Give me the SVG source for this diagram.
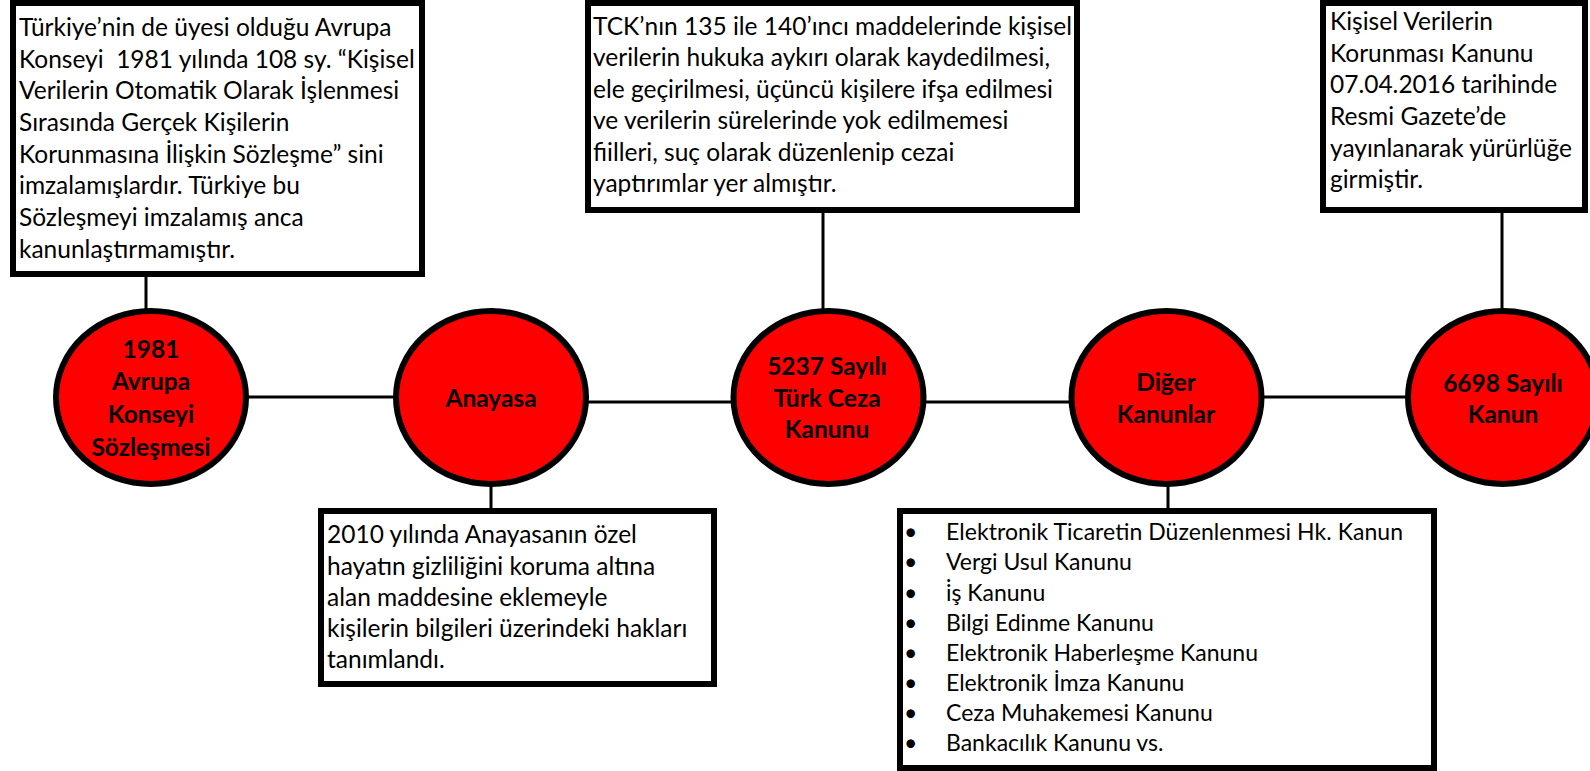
<svg xmlns="http://www.w3.org/2000/svg" width="1590" height="771" viewBox="0 0 1590 771">
<style>
.box{fill:#fff;stroke:#000;stroke-width:6}
.node{fill:#ff0000;stroke:#000;stroke-width:6}
.ln{stroke:#000;stroke-width:3;fill:none}
.t{font-family:Lato,"Open Sans","Liberation Sans",sans-serif;font-size:24.5px;fill:#000}
.s{font-size:23px}
.b{font-family:Lato,"Open Sans","Liberation Sans",sans-serif;font-size:24.5px;font-weight:bold;fill:#000;text-anchor:middle}
</style>
<rect x="0" y="0" width="1590" height="771" fill="#fff"/>
<g id="connectors">
<line class="ln" x1="146" y1="277" x2="146" y2="310"/>
<line class="ln" x1="491" y1="485" x2="491" y2="509"/>
<line class="ln" x1="823" y1="213" x2="823" y2="310"/>
<line class="ln" x1="1168" y1="485" x2="1168" y2="509"/>
<line class="ln" x1="1502" y1="213" x2="1502" y2="310"/>
<line class="ln" x1="247" y1="397" x2="396" y2="397"/>
<line class="ln" x1="586" y1="402" x2="732" y2="402"/>
<line class="ln" x1="925" y1="402" x2="1070" y2="402"/>
<line class="ln" x1="1263" y1="397" x2="1408" y2="397"/>
</g>
<g id="node-1981">
<ellipse class="node" cx="151" cy="397.5" rx="95" ry="86.5"/>
<text class="b" x="151" y="358">1981</text>
<text class="b" x="151" y="390">Avrupa</text>
<text class="b" x="151" y="423">Konseyi</text>
<text class="b" x="151" y="456">Sözleşmesi</text>
</g>
<g id="node-anayasa">
<ellipse class="node" cx="491" cy="397.5" rx="95" ry="86.5"/>
<text class="b" x="491" y="407">Anayasa</text>
</g>
<g id="node-tck">
<ellipse class="node" cx="828.5" cy="397.5" rx="95" ry="86.5"/>
<text class="b" x="827" y="375">5237 Sayılı</text>
<text class="b" x="827" y="407">Türk Ceza</text>
<text class="b" x="827" y="438">Kanunu</text>
</g>
<g id="node-diger">
<ellipse class="node" cx="1166.5" cy="397.5" rx="95" ry="86.5"/>
<text class="b" x="1166" y="391">Diğer</text>
<text class="b" x="1166" y="423">Kanunlar</text>
</g>
<g id="node-6698">
<ellipse class="node" cx="1503" cy="397.5" rx="95" ry="86.5"/>
<text class="b" x="1503" y="392">6698 Sayılı</text>
<text class="b" x="1503" y="423">Kanun</text>
</g>
<g id="box-avrupa">
<rect class="box" x="13" y="3" width="409" height="271"/>
<text class="t" x="19" y="36">Türkiye’nin de üyesi olduğu Avrupa</text>
<text class="t" x="19" y="68" xml:space="preserve">Konseyi  1981 yılında 108 sy. “Kişisel</text>
<text class="t" x="19" y="99">Verilerin Otomatik Olarak İşlenmesi</text>
<text class="t" x="19" y="131">Sırasında Gerçek Kişilerin</text>
<text class="t" x="19" y="163">Korunmasına İlişkin Sözleşme” sini</text>
<text class="t" x="19" y="194">imzalamışlardır. Türkiye bu</text>
<text class="t" x="19" y="226">Sözleşmeyi imzalamış anca</text>
<text class="t" x="19" y="258">kanunlaştırmamıştır.</text>
</g>
<g id="box-anayasa">
<rect class="box" x="321" y="511" width="393" height="173"/>
<text class="t" x="327" y="543">2010 yılında Anayasanın özel</text>
<text class="t" x="327" y="575">hayatın gizliliğini koruma altına</text>
<text class="t" x="327" y="606">alan maddesine eklemeyle</text>
<text class="t" x="327" y="637">kişilerin bilgileri üzerindeki hakları</text>
<text class="t" x="327" y="668">tanımlandı.</text>
</g>
<g id="box-tck">
<rect class="box" x="588" y="3" width="489" height="207"/>
<text class="t" x="593" y="35">TCK’nın 135 ile 140’ıncı maddelerinde kişisel</text>
<text class="t" x="593" y="66">verilerin hukuka aykırı olarak kaydedilmesi,</text>
<text class="t" x="593" y="98">ele geçirilmesi, üçüncü kişilere ifşa edilmesi</text>
<text class="t" x="593" y="129">ve verilerin sürelerinde yok edilmemesi</text>
<text class="t" x="593" y="161">fiilleri, suç olarak düzenlenip cezai</text>
<text class="t" x="593" y="192">yaptırımlar yer almıştır.</text>
</g>
<g id="box-diger">
<rect class="box" x="900" y="511" width="534" height="257"/>
<g class="t s" xml:space="preserve">
<text x="904" y="540">•</text><text x="946" y="540" textLength="457" lengthAdjust="spacing">Elektronik  Ticaretin  Düzenlenmesi  Hk. Kanun</text>
<text x="904" y="570">•</text><text x="946" y="570">Vergi Usul Kanunu</text>
<text x="904" y="601">•</text><text x="946" y="601">i̇ş Kanunu</text>
<text x="904" y="631">•</text><text x="946" y="631">Bilgi  Edinme  Kanunu</text>
<text x="904" y="661">•</text><text x="946" y="661">Elektronik  Haberleşme  Kanunu</text>
<text x="904" y="691">•</text><text x="946" y="691">Elektronik İmza Kanunu</text>
<text x="904" y="721">•</text><text x="946" y="721">Ceza Muhakemesi Kanunu</text>
<text x="904" y="751">•</text><text x="946" y="751">Bankacılık  Kanunu vs.</text>
</g>
</g>
<g id="box-6698">
<rect class="box" x="1323" y="3" width="262" height="207"/>
<text class="t" x="1330" y="30">Kişisel Verilerin</text>
<text class="t" x="1330" y="62">Korunması Kanunu</text>
<text class="t" x="1330" y="93">07.04.2016 tarihinde</text>
<text class="t" x="1330" y="125">Resmi Gazete’de</text>
<text class="t" x="1330" y="157">yayınlanarak yürürlüğe</text>
<text class="t" x="1330" y="188">girmiştir.</text>
</g>
</svg>
